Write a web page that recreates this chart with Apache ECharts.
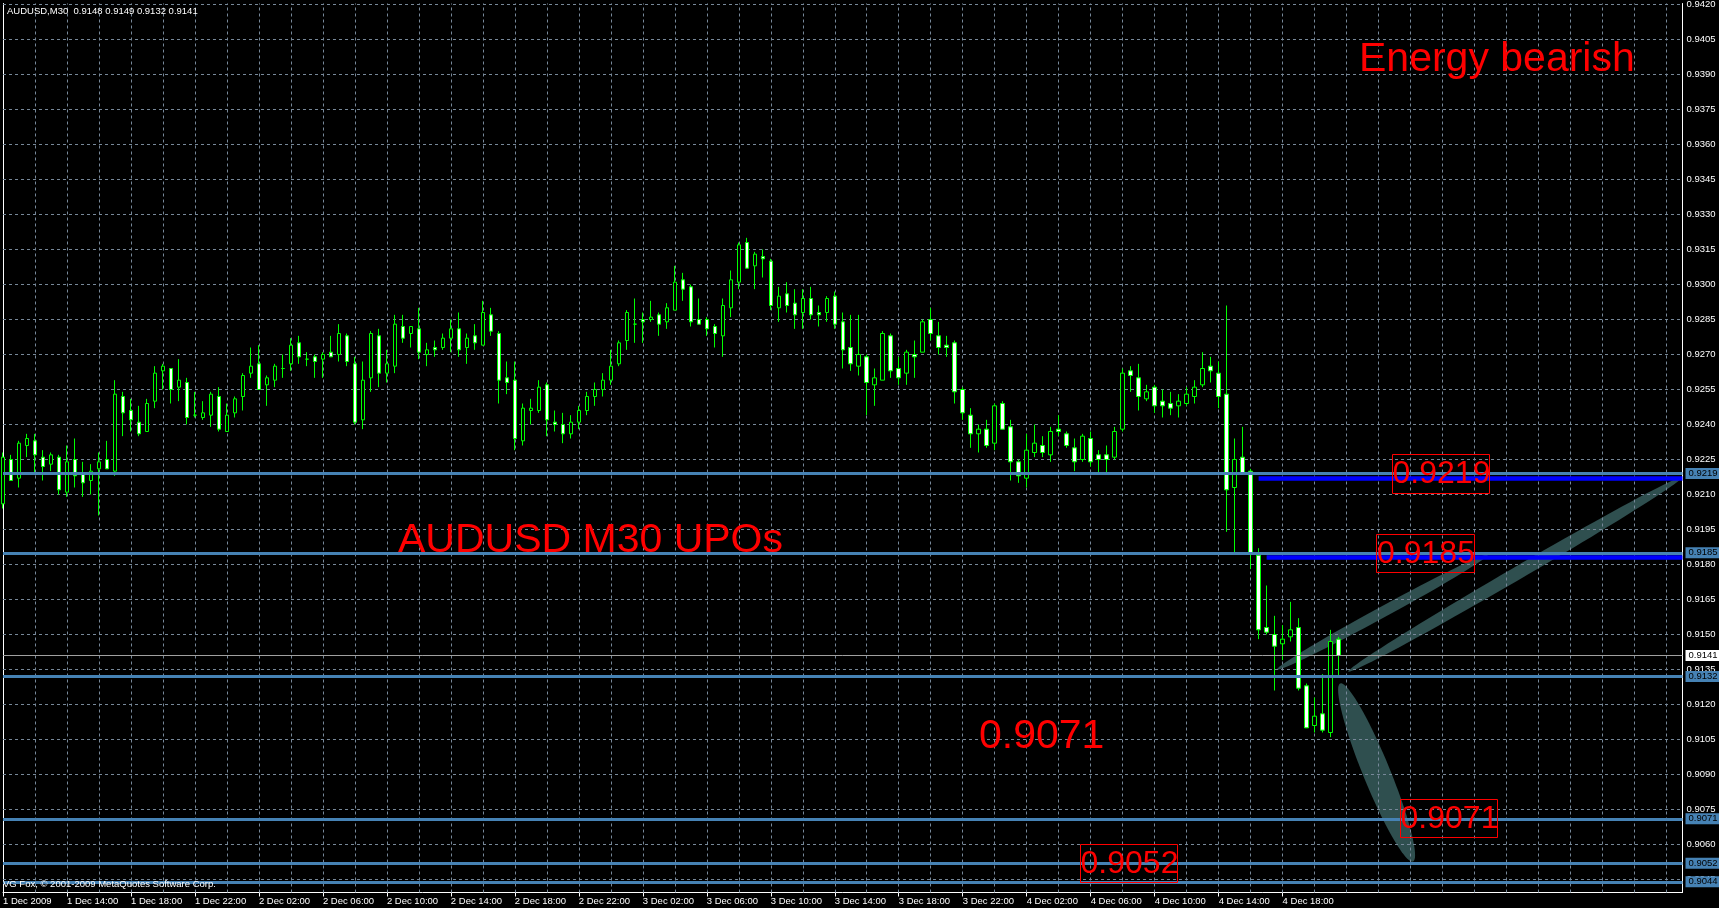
<!DOCTYPE html>
<html><head><meta charset="utf-8">
<script src="https://cdn.jsdelivr.net/npm/echarts@6/dist/echarts.min.js"></script>
<style>html,body{margin:0;padding:0;background:#000;overflow:hidden}#c{width:1719px;height:908px}</style>
</head><body><div id="c"></div>
<script>
// ---- data (AUDUSD M30) ----
const opens = [.9206,.9225,.9217,.9231,.9233,.9226,.9223,.9226,.9211,.9225,
.9219,.9216,.9221,.9225,.9220,.9252,.9246,.9241,.9237,.9250,
.9263,.9264,.9256,.9258,.9244,.9243,.9244,.9252,.9237,.9245,
.9252,.9262,.9266,.9257,.9259,.9264,.9266,.9275,.9268,.9269,
.9268,.9271,.9270,.9278,.9266,.9242,.9260,.9278,.9262,.9265,
.9282,.9279,.9281,.9270,.9273,.9273,.9277,.9281,.9273,.9278,
.9274,.9287,.9279,.9260,.9259,.9233,.9246,.9246,.9257,.9241,
.9240,.9236,.9241,.9246,.9252,.9255,.9259,.9266,.9276,.9283,
.9285,.9285,.9287,.9284,.9289,.9302,.9299,.9285,.9285,.9282,
.9278,.9290,.9301,.9318,.9308,.9312,.9310,.9290,.9296,.9292,
.9288,.9294,.9288,.9288,.9295,.9284,.9273,.9265,.9269,.9257,
.9259,.9278,.9264,.9262,.9270,.9271,.9285,.9278,.9274,.9275,
.9255,.9244,.9236,.9238,.9232,.9249,.9239,.9224,.9217,.9228,
.9231,.9227,.9238,.9236,.9230,.9225,.9234,.9227,.9227,.9226,
.9238,.9263,.9260,.9251,.9256,.9250,.9249,.9248,.9249,.9252,
.9257,.9265,.9262,.9253,.9213,.9226,.9220,.9184,.9153,.9150,
.9146,.9149,.9153,.9128,.9111,.9116,.9108,.9148];
const highs = [.9228,.9227,.9233,.9236,.9236,.9229,.9228,.9227,.9231,.9234,
.9224,.9223,.9228,.9233,.9259,.9254,.9251,.9248,.9251,.9265,
.9266,.9264,.9268,.9260,.9254,.9250,.9254,.9256,.9249,.9252,
.9262,.9273,.9274,.9261,.9266,.9270,.9277,.9278,.9271,.9270,
.9271,.9278,.9283,.9279,.9269,.9267,.9280,.9281,.9272,.9287,
.9287,.9282,.9290,.9275,.9276,.9279,.9285,.9288,.9279,.9283,
.9293,.9290,.9280,.9267,.9267,.9249,.9251,.9259,.9258,.9246,
.9245,.9244,.9248,.9254,.9258,.9262,.9272,.9276,.9289,.9294,
.9288,.9293,.9288,.9292,.9308,.9305,.9300,.9294,.9286,.9283,
.9294,.9306,.9318,.9320,.9314,.9315,.9311,.9299,.9301,.9298,
.9298,.9299,.9291,.9295,.9297,.9288,.9287,.9287,.9270,.9264,
.9280,.9279,.9269,.9272,.9276,.9285,.9290,.9284,.9278,.9276,
.9256,.9247,.9240,.9242,.9249,.9250,.9242,.9225,.9236,.9240,
.9235,.9239,.9244,.9237,.9234,.9236,.9237,.9229,.9231,.9239,
.9264,.9265,.9266,.9257,.9257,.9255,.9254,.9253,.9256,.9259,
.9271,.9269,.9267,.9291,.9234,.9239,.9221,.9187,.9171,.9158,
.9154,.9164,.9157,.9129,.9123,.9133,.9152,.9149];
const lows = [.9204,.9216,.9213,.9226,.9219,.9216,.9220,.9210,.9209,.9213,
.9209,.9210,.9201,.9221,.9218,.9235,.9237,.9235,.9237,.9247,
.9255,.9249,.9250,.9240,.9243,.9242,.9239,.9237,.9237,.9243,
.9246,.9260,.9255,.9248,.9256,.9260,.9263,.9266,.9265,.9260,
.9260,.9269,.9267,.9265,.9240,.9238,.9254,.9256,.9258,.9262,
.9275,.9273,.9268,.9265,.9269,.9272,.9271,.9269,.9266,.9272,
.9274,.9278,.9249,.9253,.9229,.9231,.9240,.9245,.9235,.9237,
.9232,.9234,.9238,.9244,.9248,.9252,.9257,.9265,.9272,.9275,
.9275,.9284,.9278,.9281,.9289,.9293,.9282,.9283,.9278,.9273,
.9269,.9286,.9298,.9307,.9298,.9303,.9289,.9284,.9288,.9281,
.9281,.9285,.9282,.9284,.9281,.9264,.9263,.9261,.9244,.9248,
.9259,.9260,.9257,.9257,.9260,.9271,.9276,.9270,.9269,.9249,
.9242,.9230,.9228,.9230,.9229,.9238,.9216,.9215,.9213,.9226,
.9226,.9224,.9235,.9230,.9220,.9224,.9222,.9219,.9219,.9225,
.9237,.9254,.9246,.9250,.9245,.9243,.9244,.9243,.9248,.9249,
.9256,.9258,.9247,.9194,.9185,.9219,.9178,.9148,.9150,.9126,
.9139,.9147,.9126,.9110,.9108,.9108,.9106,.9132];
const closes = [.9226,.9216,.9232,.9234,.9227,.9222,.9227,.9212,.9224,.9218,
.9215,.9220,.9224,.9221,.9253,.9245,.9242,.9236,.9249,.9262,
.9265,.9255,.9259,.9243,.9244,.9245,.9253,.9238,.9244,.9251,
.9261,.9265,.9255,.9260,.9265,.9264,.9274,.9269,.9268,.9267,
.9270,.9269,.9279,.9267,.9241,.9259,.9279,.9262,.9266,.9283,
.9277,.9282,.9271,.9272,.9272,.9277,.9281,.9272,.9277,.9275,
.9288,.9280,.9259,.9258,.9234,.9247,.9247,.9256,.9242,.9240,
.9236,.9241,.9246,.9252,.9255,.9259,.9265,.9275,.9288,.9283,
.9284,.9286,.9283,.9290,.9301,.9298,.9284,.9283,.9281,.9279,
.9291,.9302,.9317,.9307,.9313,.9311,.9291,.9295,.9291,.9287,
.9294,.9287,.9287,.9294,.9283,.9272,.9266,.9270,.9258,.9260,
.9279,.9263,.9260,.9271,.9269,.9284,.9279,.9273,.9273,.9254,
.9245,.9236,.9238,.9231,.9248,.9238,.9224,.9218,.9229,.9232,
.9228,.9237,.9237,.9231,.9224,.9235,.9224,.9225,.9225,.9237,
.9262,.9261,.9252,.9254,.9248,.9248,.9247,.9250,.9253,.9256,
.9264,.9263,.9252,.9212,.9225,.9219,.9185,.9152,.9151,.9145,
.9148,.9152,.9127,.9110,.9115,.9109,.9147,.9141];

const tickLabels = ["1 Dec 2009","1 Dec 14:00","1 Dec 18:00","1 Dec 22:00","2 Dec 02:00","2 Dec 06:00",
"2 Dec 10:00","2 Dec 14:00","2 Dec 18:00","2 Dec 22:00","3 Dec 02:00","3 Dec 06:00","3 Dec 10:00",
"3 Dec 14:00","3 Dec 18:00","3 Dec 22:00","4 Dec 02:00","4 Dec 06:00","4 Dec 10:00","4 Dec 14:00","4 Dec 18:00"];
const priceTicks = [0.9420,0.9405,0.9390,0.9375,0.9360,0.9345,0.9330,0.9315,0.9300,0.9285,0.9270,0.9255,
0.9240,0.9225,0.9210,0.9195,0.9180,0.9165,0.9150,0.9135,0.9120,0.9105,0.9090,0.9075,0.9060,0.9045];
const levelLines = [0.9219,0.9185,0.9132,0.9071,0.9052,0.9044];
const bidLine = 0.9141;
const blueLevels = [0.9217,0.9183];
const blueStarts = [157,158];
const slotCount = 211;   // bar slots on the time axis (incl. empty right margin)
const yMin = 0.903943, yMax = 0.942043;

const categories = [];
for (let i = 0; i < slotCount; i++) categories.push(String(i));
const vGrid = [];       // vertical grid every 4 bars (2 hours)
for (let i = 4; i < slotCount; i += 4) vGrid.push(i);
const candles = opens.map((o, i) => [o, closes[i], lows[i], highs[i]]);

const FONT = '"Liberation Sans", Arial, sans-serif';
const GRID = '#778899';
const chart = echarts.init(document.getElementById('c'), null, {renderer: 'canvas'});

const option = {
  backgroundColor: '#000',
  animation: false,
  grid: {left: 2.5, top: 3.5, width: 1680, height: 889, containLabel: false},
  xAxis: {
    type: 'category', data: categories, boundaryGap: false,
    axisLine: {onZero: false, lineStyle: {color: '#fff', width: 1}},
    axisTick: {show: true, length: 4, interval: (i) => i % 8 === 0 && i <= 160, lineStyle: {color: '#fff'}},
    axisLabel: {interval: (i) => i % 8 === 0 && i <= 160, formatter: (v, i) => tickLabels[Math.round(i / 8)] || '',
      color: '#fff', fontSize: 9.5, fontFamily: FONT, align: 'left', margin: 4},
    splitLine: {show: false}
  },
  yAxis: [
    {type: 'value', position: 'right', min: yMin, max: yMax,
     axisLine: {show: true, lineStyle: {color: '#fff'}}, axisTick: {show: false}, axisLabel: {show: false}, splitLine: {show: false}},
    {type: 'value', position: 'left', min: yMin, max: yMax,
     axisLine: {show: true, lineStyle: {color: '#fff'}}, axisTick: {show: false}, axisLabel: {show: false}, splitLine: {show: false}}
  ],
  series: [
    {type: 'line', data: [], silent: true, z: 1,
     markLine: {silent: true, symbol: 'none', z: 1, animation: false, precision: 6,
       lineStyle: {color: GRID, type: [3, 3], width: 1},
       label: {show: true, position: 'end', distance: 4, color: '#fff', fontSize: 9.5, fontFamily: FONT,
         formatter: (p) => Number(p.value).toFixed(4)},
       emphasis: {disabled: true},
       data: priceTicks.map(v => ({yAxis: v}))}},
    {type: 'line', data: [], silent: true, z: 1,
     markLine: {silent: true, symbol: 'none', z: 1, animation: false,
       lineStyle: {color: GRID, type: [3, 3], width: 1},
       label: {show: false}, emphasis: {disabled: true},
       data: vGrid.map(i => ({xAxis: i}))}},
    {type: 'candlestick', data: candles, barWidth: 4, z: 3,
     itemStyle: {color: '#000', color0: '#fff', borderColor: '#00ff00', borderColor0: '#00ff00',
       borderColorDoji: '#00ff00', borderWidth: 1}},
    {type: 'line', data: [], silent: true, z: 4,
     markLine: {silent: true, symbol: 'none', z: 4, animation: false, precision: 6,
       lineStyle: {color: '#0000ff', type: 'solid', width: 4.5},
       label: {show: false}, emphasis: {disabled: true},
       data: blueLevels.map((v, k) => [{coord: [blueStarts[k], v]}, {coord: [slotCount - 1, v]}])}},
    {type: 'line', data: [], silent: true, z: 5,
     markLine: {silent: true, symbol: 'none', z: 5, animation: false, precision: 6,
       lineStyle: {color: '#a0a0a0', type: 'solid', width: 1},
       label: {show: true, position: 'end', distance: 3, color: '#000', backgroundColor: '#fff',
         padding: [1, 3, 0, 3], fontSize: 9.5, fontFamily: FONT, formatter: (p) => Number(p.value).toFixed(4)},
       emphasis: {disabled: true},
       data: [{yAxis: bidLine}]}},
    {type: 'line', data: [], silent: true, z: 6,
     markLine: {silent: true, symbol: 'none', z: 6, animation: false, precision: 6,
       lineStyle: {color: '#4682b4', type: 'solid', width: 3},
       label: {show: true, position: 'end', distance: 3, color: '#000', backgroundColor: '#4682b4',
         padding: [1, 3, 0, 3], fontSize: 9.5, fontFamily: FONT, formatter: (p) => Number(p.value).toFixed(4)},
       emphasis: {disabled: true},
       data: levelLines.map(v => ({yAxis: v}))}}
  ]
};
chart.setOption(option);

// ---- drawn objects (ellipses anchored to bar index / price) ----
const ellipses = [
  {from: [159.3, 0.91350], to: [185.7, 0.91843], minor: 11},
  {from: [168.2, 0.91341], to: [209.9, 0.92173], minor: 13},
  {from: [167.2, 0.91290], to: [176.3, 0.90527], minor: 27}
];
const p0 = chart.convertToPixel({xAxisIndex: 0, yAxisIndex: 0}, [0, 0.92]);
const p1 = chart.convertToPixel({xAxisIndex: 0, yAxisIndex: 0}, [100, 0.92]);
const toPx = (i, price) => {
  const x = p0[0] + (p1[0] - p0[0]) * i / 100;
  const y = chart.convertToPixel({yAxisIndex: 0}, price);
  return [x, y];
};
function ellipsePoints(a, b, minor) {
  const A = toPx(a[0], a[1]), B = toPx(b[0], b[1]);
  const cx = (A[0] + B[0]) / 2, cy = (A[1] + B[1]) / 2;
  const dx = B[0] - A[0], dy = B[1] - A[1];
  const L = Math.sqrt(dx * dx + dy * dy) / 2, ang = Math.atan2(dy, dx);
  const pts = [];
  for (let k = 0; k < 96; k++) {
    const t = k / 96 * Math.PI * 2;
    const ex = L * Math.cos(t), ey = minor / 2 * Math.sin(t);
    pts.push([cx + ex * Math.cos(ang) - ey * Math.sin(ang), cy + ex * Math.sin(ang) + ey * Math.cos(ang)]);
  }
  return pts;
}

const boxes = [
  {text: '0.9219', x: 1392, y: 454, w: 97, h: 39},
  {text: '0.9185', x: 1376, y: 534, w: 98, h: 38},
  {text: '0.9071', x: 1400, y: 799, w: 97, h: 38},
  {text: '0.9052', x: 1080, y: 844, w: 97, h: 38}
];
const bigTexts = [
  {text: 'Energy bearish', x: 1359, y: 60},
  {text: 'AUDUSD M30 UPOs', x: 398, y: 541},
  {text: '0.9071', x: 979, y: 737}
];

const graphics = [];
ellipses.forEach(e => graphics.push({type: 'polygon', z: -1, silent: true,
  shape: {points: ellipsePoints(e.from, e.to, e.minor)}, style: {fill: '#2f4f4f'}}));
boxes.forEach(b => {
  graphics.push({type: 'rect', z: 10, silent: true, shape: {x: b.x + 0.5, y: b.y + 0.5, width: b.w, height: b.h},
    style: {fill: 'none', stroke: '#ff0000', lineWidth: 1}});
  graphics.push({type: 'text', z: 10, silent: true, x: b.x + b.w / 2 + 1, y: b.y + b.h / 2 + 1,
    style: {text: b.text, fill: '#ff0000', font: '32px ' + FONT, align: 'center', verticalAlign: 'middle'}});
});
bigTexts.forEach(t => graphics.push({type: 'text', z: 10, silent: true, x: t.x, y: t.y,
  style: {text: t.text, fill: '#ff0000', font: '41px ' + FONT, align: 'left', verticalAlign: 'middle'}}));
graphics.push({type: 'text', z: 10, silent: true, x: 7, y: 11,
  style: {text: 'AUDUSD,M30  0.9148 0.9149 0.9132 0.9141', fill: '#fff', font: '9.5px ' + FONT, align: 'left', verticalAlign: 'middle'}});
graphics.push({type: 'text', z: 10, silent: true, x: 3, y: 884,
  style: {text: 'VG Fox, \u00a9 2001-2009 MetaQuotes Software Corp.', fill: '#fff', font: '9.5px ' + FONT, align: 'left', verticalAlign: 'middle'}});
chart.setOption({graphic: graphics});
</script>
</body></html>
